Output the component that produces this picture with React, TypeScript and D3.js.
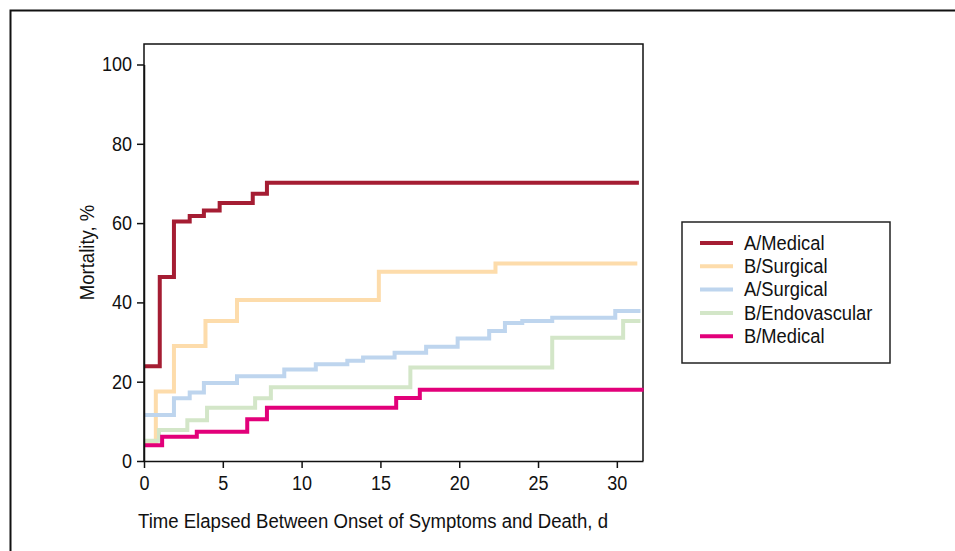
import React, { useRef, useEffect } from 'react';
import { select, scaleLinear, axisLeft, axisBottom, line, curveStepAfter } from 'd3';

// series labels, in legend order
const seriesNames = ['A/Medical', 'B/Surgical', 'A/Surgical', 'B/Endovascular', 'B/Medical'];
const seriesColors = ['#a51d33', '#fddcab', '#bed5ee', '#d3e6c8', '#e2007a'];

// step points: day when the step starts, mortality % after it
const aMedicalDays = [0, 1, 1.9, 2.9, 3.8, 4.8, 6.9, 7.8, 31.4];
const aMedicalPct = [23.9, 46.4, 60.4, 61.8, 63.2, 65.1, 67.4, 70.2, 70.2];

const bSurgicalDays = [0, 0.75, 1.9, 3.9, 5.9, 14.9, 22.3, 31.3];
const bSurgicalPct = [4.6, 17.5, 29, 35.3, 40.6, 47.7, 49.8, 49.8];

const aSurgicalDays = [0, 1.9, 2.9, 3.8, 5.9, 8.9, 10.9, 12.9, 13.9, 15.9, 17.9, 19.9, 21.9, 22.9, 24.0, 25.9, 29.9, 31.5];
const aSurgicalPct = [11.6, 15.8, 17.3, 19.7, 21.4, 23.1, 24.4, 25.3, 26.1, 27.3, 28.8, 30.9, 32.8, 34.8, 35.3, 36.1, 37.8, 37.8];

const bEndovascularDays = [0, 0.95, 2.75, 4.0, 7.05, 8.05, 16.9, 25.9, 30.4, 31.5];
const bEndovascularPct = [5.1, 7.8, 10.3, 13.4, 15.8, 18.6, 23.6, 31.1, 35.3, 35.3];

const bMedicalDays = [0, 1.15, 3.35, 6.55, 7.8, 16.0, 17.5, 31.7];
const bMedicalPct = [4.0, 6.1, 7.4, 10.5, 13.4, 15.9, 18.0, 18.0];

const xTicks = [0, 5, 10, 15, 20, 25, 30];
const yTicks = [0, 20, 40, 60, 80, 100];

const FONT = '"Liberation Sans", Arial, sans-serif';

// squeeze text horizontally to mimic the condensed face
const condense = (sel: any, k: number) => {
  sel.each(function (this: SVGTextElement) {
    const len = this.getComputedTextLength();
    if (len > 0) {
      this.setAttribute('textLength', String(len * k));
      this.setAttribute('lengthAdjust', 'spacingAndGlyphs');
    }
  });
};

const App = () => {
  const svgRef = useRef<SVGSVGElement>(null);

  const width = 955;
  const height = 551;
  const margin = { top: 44, right: 312, bottom: 90, left: 144 };
  const innerWidth = width - margin.left - margin.right;
  const innerHeight = 461 - margin.top;

  useEffect(() => {
    const svg = select(svgRef.current);
    svg.selectAll('*').remove();

    const series = [
      { name: seriesNames[0], color: seriesColors[0], days: aMedicalDays, pct: aMedicalPct },
      { name: seriesNames[1], color: seriesColors[1], days: bSurgicalDays, pct: bSurgicalPct },
      { name: seriesNames[2], color: seriesColors[2], days: aSurgicalDays, pct: aSurgicalPct },
      { name: seriesNames[3], color: seriesColors[3], days: bEndovascularDays, pct: bEndovascularPct },
      { name: seriesNames[4], color: seriesColors[4], days: bMedicalDays, pct: bMedicalPct }
    ];

    const xScale = scaleLinear().domain([0, 31.66]).range([0, innerWidth]);
    const yScale = scaleLinear().domain([0, 100]).range([innerHeight, innerHeight - 396.5]);

    // outer frame (runs off the right and bottom of the picture)
    svg.append('path')
      .attr('d', `M10.5,${height + 5}V10.5H${width + 5}`)
      .attr('fill', 'none')
      .attr('stroke', '#111')
      .attr('stroke-width', 2);

    const g = svg.append('g').attr('transform', `translate(${margin.left}, ${margin.top})`);

    // plot box
    g.append('path')
      .attr('d', `M0,${innerHeight}V0H${innerWidth}V${innerHeight}`)
      .attr('fill', 'none')
      .attr('stroke', '#111')
      .attr('stroke-width', 1.5);

    // draw order so the darker lines sit on top
    const drawOrder = [1, 2, 3, 4, 0];
    const stepLine = line<[number, number]>()
      .x(d => xScale(d[0]))
      .y(d => yScale(d[1]))
      .curve(curveStepAfter);

    drawOrder.forEach(i => {
      const s = series[i];
      const pts = s.days.map((d, k) => [d, s.pct[k]] as [number, number]);
      g.append('path')
        .attr('d', stepLine(pts))
        .attr('fill', 'none')
        .attr('stroke', s.color)
        .attr('stroke-width', 4)
        .attr('stroke-linejoin', 'miter');
    });

    const yAxis = g.append('g').call(
      axisLeft(yScale).tickValues(yTicks).tickSize(7).tickPadding(5).tickSizeOuter(0)
    );
    const xAxis = g.append('g')
      .attr('transform', `translate(0, ${innerHeight})`)
      .call(axisBottom(xScale).tickValues(xTicks).tickSize(7).tickPadding(8).tickSizeOuter(0));

    [yAxis, xAxis].forEach(ax => {
      ax.select('.domain').attr('stroke', '#111').attr('stroke-width', 1.5);
      ax.selectAll('.tick line').attr('stroke', '#111').attr('stroke-width', 1.5);
      ax.selectAll('.tick text')
        .attr('fill', '#111')
        .style('font-family', FONT)
        .style('font-size', '20px');
    });
    condense(yAxis.selectAll('.tick text'), 0.9);
    condense(xAxis.selectAll('.tick text'), 0.9);

    const xTitle = g.append('text')
      .attr('x', 229)
      .attr('y', innerHeight + 67)
      .attr('text-anchor', 'middle')
      .attr('fill', '#111')
      .style('font-family', FONT)
      .style('font-size', '19.5px')
      .text('Time Elapsed Between Onset of Symptoms and Death, d');
    const tNode = xTitle.node() as SVGTextElement;
    tNode.setAttribute('textLength', '470');
    tNode.setAttribute('lengthAdjust', 'spacingAndGlyphs');

    const yTitle = g.append('text')
      .attr('transform', `translate(${-50}, ${innerHeight / 2}) rotate(-90)`)
      .attr('text-anchor', 'middle')
      .attr('fill', '#111')
      .style('font-family', FONT)
      .style('font-size', '19.5px')
      .text('Mortality, %');
    condense(yTitle, 0.95);

    // legend
    const legend = svg.append('g').attr('transform', 'translate(682, 222)');
    legend.append('rect')
      .attr('width', 208)
      .attr('height', 141)
      .attr('fill', 'white')
      .attr('stroke', '#222')
      .attr('stroke-width', 1.5);

    series.forEach((s, i) => {
      const row = legend.append('g').attr('transform', `translate(0, ${21 + i * 23.3})`);
      row.append('line')
        .attr('x1', 18)
        .attr('x2', 51)
        .attr('stroke', s.color)
        .attr('stroke-width', 4);
      row.append('text')
        .attr('x', 62)
        .attr('dy', '0.35em')
        .attr('fill', '#111')
        .style('font-family', FONT)
        .style('font-size', '19.5px')
        .text(s.name);
    });
    condense(legend.selectAll('text'), 0.94);
  }, []);

  return (
    <div>
      <svg
        ref={svgRef}
        width={width}
        height={height}
        style={{ position: 'absolute', left: 0, top: 0, background: 'white' }}
      ></svg>
    </div>
  );
};

export default App;
